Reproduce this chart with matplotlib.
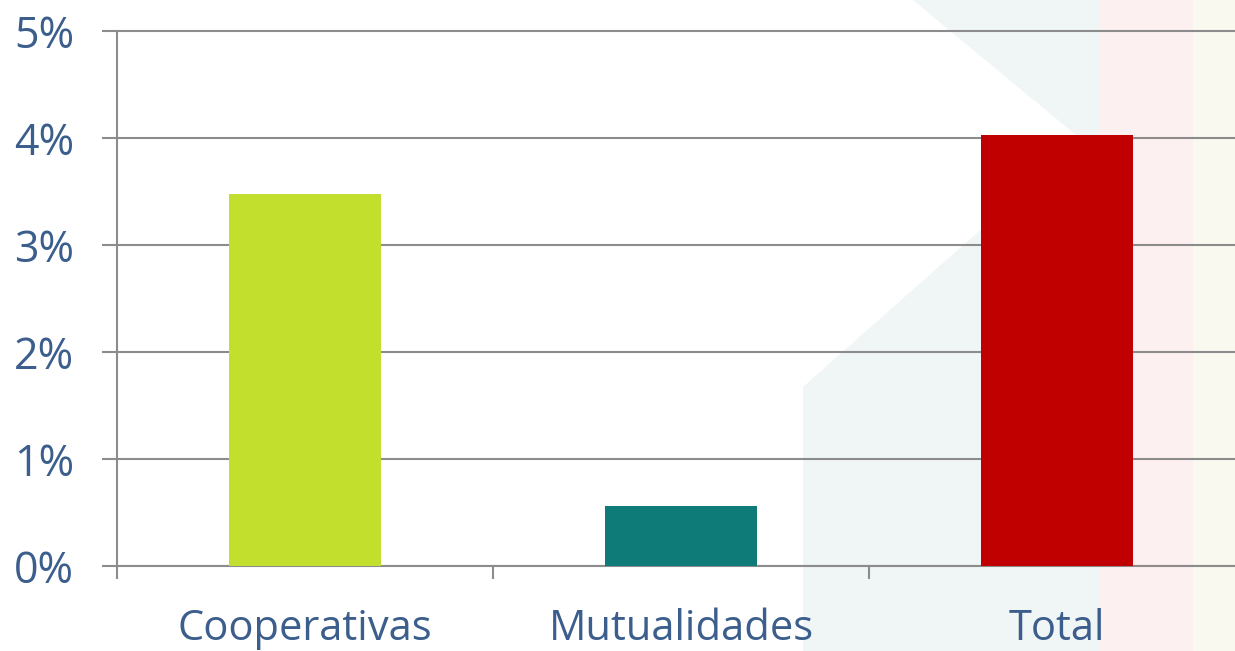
import matplotlib.pyplot as plt
from matplotlib.patches import Polygon
from matplotlib.ticker import FuncFormatter

# Data
categorias = ['Cooperativas', 'Mutualidades', 'Total']
valores = [3.48, 0.56, 4.03]   # en %
colores = ['#c2df2d', '#0e7b78', '#c00000']

W, H = 1235, 651
fig = plt.figure(figsize=(W / 100, H / 100), dpi=100)

# fondo decorativo (marca de agua de la diapositiva)
def px(points):
    return [(x / W, 1 - y / H) for x, y in points]

fondo = [
    (px([(913, 0), (1235, 0), (1235, 651), (803, 651), (803, 387), (1082, 140)]), '#f0f5f5'),
    (px([(1100, 0), (1193, 0), (1193, 651), (1100, 651)]), '#fdf0f0'),
    (px([(1193, 0), (1235, 0), (1235, 651), (1193, 651)]), '#f9f9f0'),
]
for pts, c in fondo:
    fig.patches.append(Polygon(pts, closed=True, transform=fig.transFigure,
                               facecolor=c, edgecolor='none', zorder=-10))

ax = fig.add_axes([117 / W, (H - 566) / H, 1128 / W, 535 / H])
ax.patch.set_alpha(0)
ax.set_zorder(5)

x = range(len(categorias))
ax.bar(x, valores, width=0.404, color=colores, zorder=3)

gris = '#8c8c8c'
texto = '#3b5e8c'

ax.set_xlim(-0.5, 2.5)
ax.set_ylim(0, 5)
ax.set_yticks(range(0, 6))
ax.yaxis.set_major_formatter(FuncFormatter(lambda v, _: f"{v:.0f}%"))
ax.grid(axis='y', color=gris, linewidth=1.5, zorder=1)
ax.yaxis.get_gridlines()[-1].set_clip_on(False)

ax.set_xticks(list(x))
ax.set_xticklabels(categorias)
ax.set_xticks([-0.5, 0.5, 1.5, 2.5], minor=True)
ax.tick_params(axis='x', which='major', length=0, pad=30,
               labelsize=30, labelcolor=texto)
ax.tick_params(axis='x', which='minor', length=9, width=1.5,
               color=gris, direction='out')
ax.tick_params(axis='y', length=11, width=1.5, color=gris,
               pad=20, labelsize=31, labelcolor=texto)

for s in ['top', 'right']:
    ax.spines[s].set_visible(False)
ax.spines['left'].set_color(gris)
ax.spines['left'].set_linewidth(1.5)
ax.spines['bottom'].set_color(gris)
ax.spines['bottom'].set_linewidth(1.5)

for lbl in ax.get_xticklabels() + ax.get_yticklabels():
    lbl.set_fontfamily('Open Sans')

fig.savefig('out.png', dpi=100)
